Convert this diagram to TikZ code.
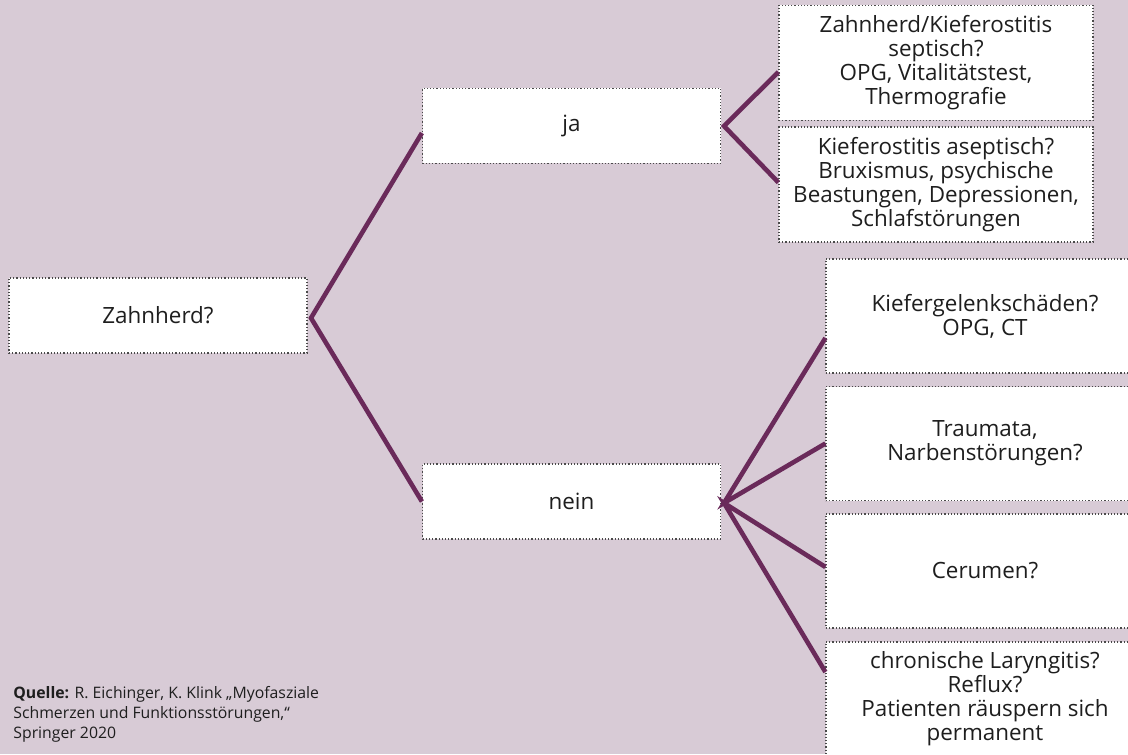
\documentclass[tikz,border=0pt]{standalone}
\usepackage{fontspec}
\setmainfont{Open Sans}
\usepackage{tikz}
\usetikzlibrary{positioning,calc}
\definecolor{figbg}{HTML}{D8CBD6}
\definecolor{figline}{HTML}{6A2A5A}
\definecolor{figdot}{HTML}{4A4A4A}
\definecolor{figink}{HTML}{1E1E1E}

\begin{document}
\begin{tikzpicture}[
  x=0.5pt, y=-0.5pt,
  font=\fontsize{11.2}{12}\selectfont,
  box/.style={draw=figdot, densely dotted, line width=0.6pt, fill=white,
              text=figink, align=center, inner sep=2pt},
  qbox/.style={box, minimum width=149pt, minimum height=37.5pt},
  rbox/.style={box, minimum width=157pt, minimum height=57.5pt},
  nbox/.style={box, minimum width=159pt, minimum height=57pt},
  lk/.style={figline, line width=2.3pt, miter limit=10},
]
\useasboundingbox (0,0) rectangle (1128,754);
\fill[figbg] (0,0) rectangle (1128,754);
\clip (0,0) rectangle (1128,754);
% Question and answers
\node[qbox] (zahn) at (158,315.5) {Zahnherd?};
\node[qbox] (ja) at (571.5,126) {ja};
\node[qbox] (nein) at (571.5,501.5) {nein};
% ja branch
\node[rbox] (sept) at (936,63)
  {Zahnherd/Kieferostitis\\septisch?\\OPG, Vitalitätstest,\\Thermografie};
\node[rbox] (asept) at (936,184.5)
  {Kieferostitis aseptisch?\\Bruxismus, psychische\\Beastungen, Depressionen,\\Schlafstörungen};
% nein branch
\node[nbox] (kiefer) at (985,316) {Kiefergelenkschäden?\\OPG, CT};
\node[nbox] (trauma) at (985,443.5) {Traumata,\\Narbenstörungen?};
\node[nbox] (cerumen) at (985,571) {Cerumen?};
\node[nbox] (laryn) at (985,699)
  {chronische Laryngitis?\\Reflux?\\Patienten räuspern sich\\permanent};
% Branch points
\coordinate (zv) at (311,318);
\coordinate (jv) at (724,126);
\coordinate (nv) at (724,503);
\draw[lk] ([yshift=-3.5pt]ja.west) -- (zv) -- (nein.west);
\draw[lk] ([yshift=-4.5pt]sept.west) -- (jv) -- ([yshift=1pt]asept.west);
\draw[lk] ([yshift=-11pt]kiefer.west) -- (nv) -- (trauma.west);
\draw[lk] ([yshift=2pt]cerumen.west) -- (nv) -- ([yshift=13.5pt]laryn.west);
% Source
\node[anchor=west, align=left, inner sep=0pt, text=figink,
      font=\fontsize{7.9}{10}\selectfont] (quelle) at (13,714)
  {\textbf{Quelle:} R. Eichinger, K. Klink „Myofasziale\\
   Schmerzen und Funktionsstörungen,“\\Springer 2020};
\end{tikzpicture}
\end{document}
